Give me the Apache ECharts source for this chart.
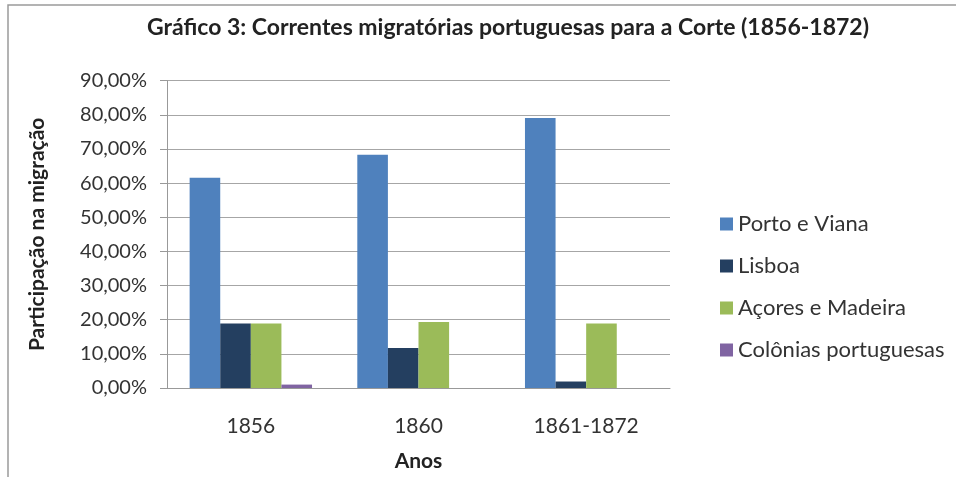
<!DOCTYPE html>
<html><head><meta charset="utf-8">
<script src="https://cdn.jsdelivr.net/npm/echarts@6/dist/echarts.min.js"></script>
<style>html,body{margin:0;padding:0;background:#fff}#c{width:956px;height:477px}</style>
</head><body><div id="c"></div>
<script>
const categories = ['1856', '1860', '1861-1872'];
const seriesNames = ['Porto e Viana', 'Lisboa', 'Açores e Madeira', 'Colônias portuguesas'];
const portoViana = [61.6, 68.3, 79.1];
const lisboa = [18.9, 11.7, 1.9];
const acoresMadeira = [18.9, 19.3, 18.9];
const colonias = [1.0, 0, 0];
const colors = ['#4F81BD', '#243F60', '#9BBB59', '#8064A2'];
const font = 'Lato, "Open Sans", sans-serif';

const chart = echarts.init(document.getElementById('c'));
const dataSets = [portoViana, lisboa, acoresMadeira, colonias];
chart.setOption({
  animation: false,
  backgroundColor: '#fff',
  title: {
    text: 'Gráfico 3: Correntes migratórias portuguesas para a Corte (1856-1872)',
    left: 503, top: 11, textAlign: 'center',
    textStyle: {fontFamily: font, fontSize: 23, fontWeight: 'bold', color: '#222'}
  },
  graphic: [{
    type: 'rect', shape: {x: 8, y: 5, width: 1000, height: 600},
    style: {fill: 'none', stroke: '#9a9a9a', lineWidth: 1.5}, silent: true, z: -1
  }],
  legend: {
    orient: 'vertical', left: 715, top: 208, itemGap: 20,
    itemWidth: 13, itemHeight: 13, icon: 'rect',
    textStyle: {fontFamily: font, fontSize: 22, color: '#333', padding: [0, 0, 0, 0]},
    data: seriesNames
  },
  grid: {left: 167, right: 286, top: 80.7, bottom: 83.7, containLabel: false},
  xAxis: {
    type: 'category', data: categories,
    axisLine: {lineStyle: {color: '#999'}},
    axisTick: {show: false},
    axisLabel: {fontFamily: font, fontSize: 21, color: '#333', margin: 28},
    name: 'Anos', nameLocation: 'middle', nameGap: 63,
    nameTextStyle: {fontFamily: font, fontSize: 21, fontWeight: 'bold', color: '#222'}
  },
  yAxis: {
    type: 'value', min: 0, max: 90, interval: 10,
    axisLine: {show: true, lineStyle: {color: '#999'}},
    axisTick: {show: true, length: 7, lineStyle: {color: '#999'}},
    splitLine: {lineStyle: {color: '#a6a6a6'}},
    axisLabel: {fontFamily: font, fontSize: 20, color: '#333', margin: 20,
      formatter: v => v.toFixed(2).replace('.', ',') + '%'},
    name: 'Participação na migração', nameLocation: 'middle', nameGap: 119,
    nameTextStyle: {fontFamily: font, fontSize: 21, fontWeight: 'bold', color: '#222'}
  },
  series: seriesNames.map((n, i) => ({
    name: n, type: 'bar', data: dataSets[i],
    barGap: '0%', barCategoryGap: '27%',
    itemStyle: {color: colors[i]}
  }))
});
</script></body></html>
